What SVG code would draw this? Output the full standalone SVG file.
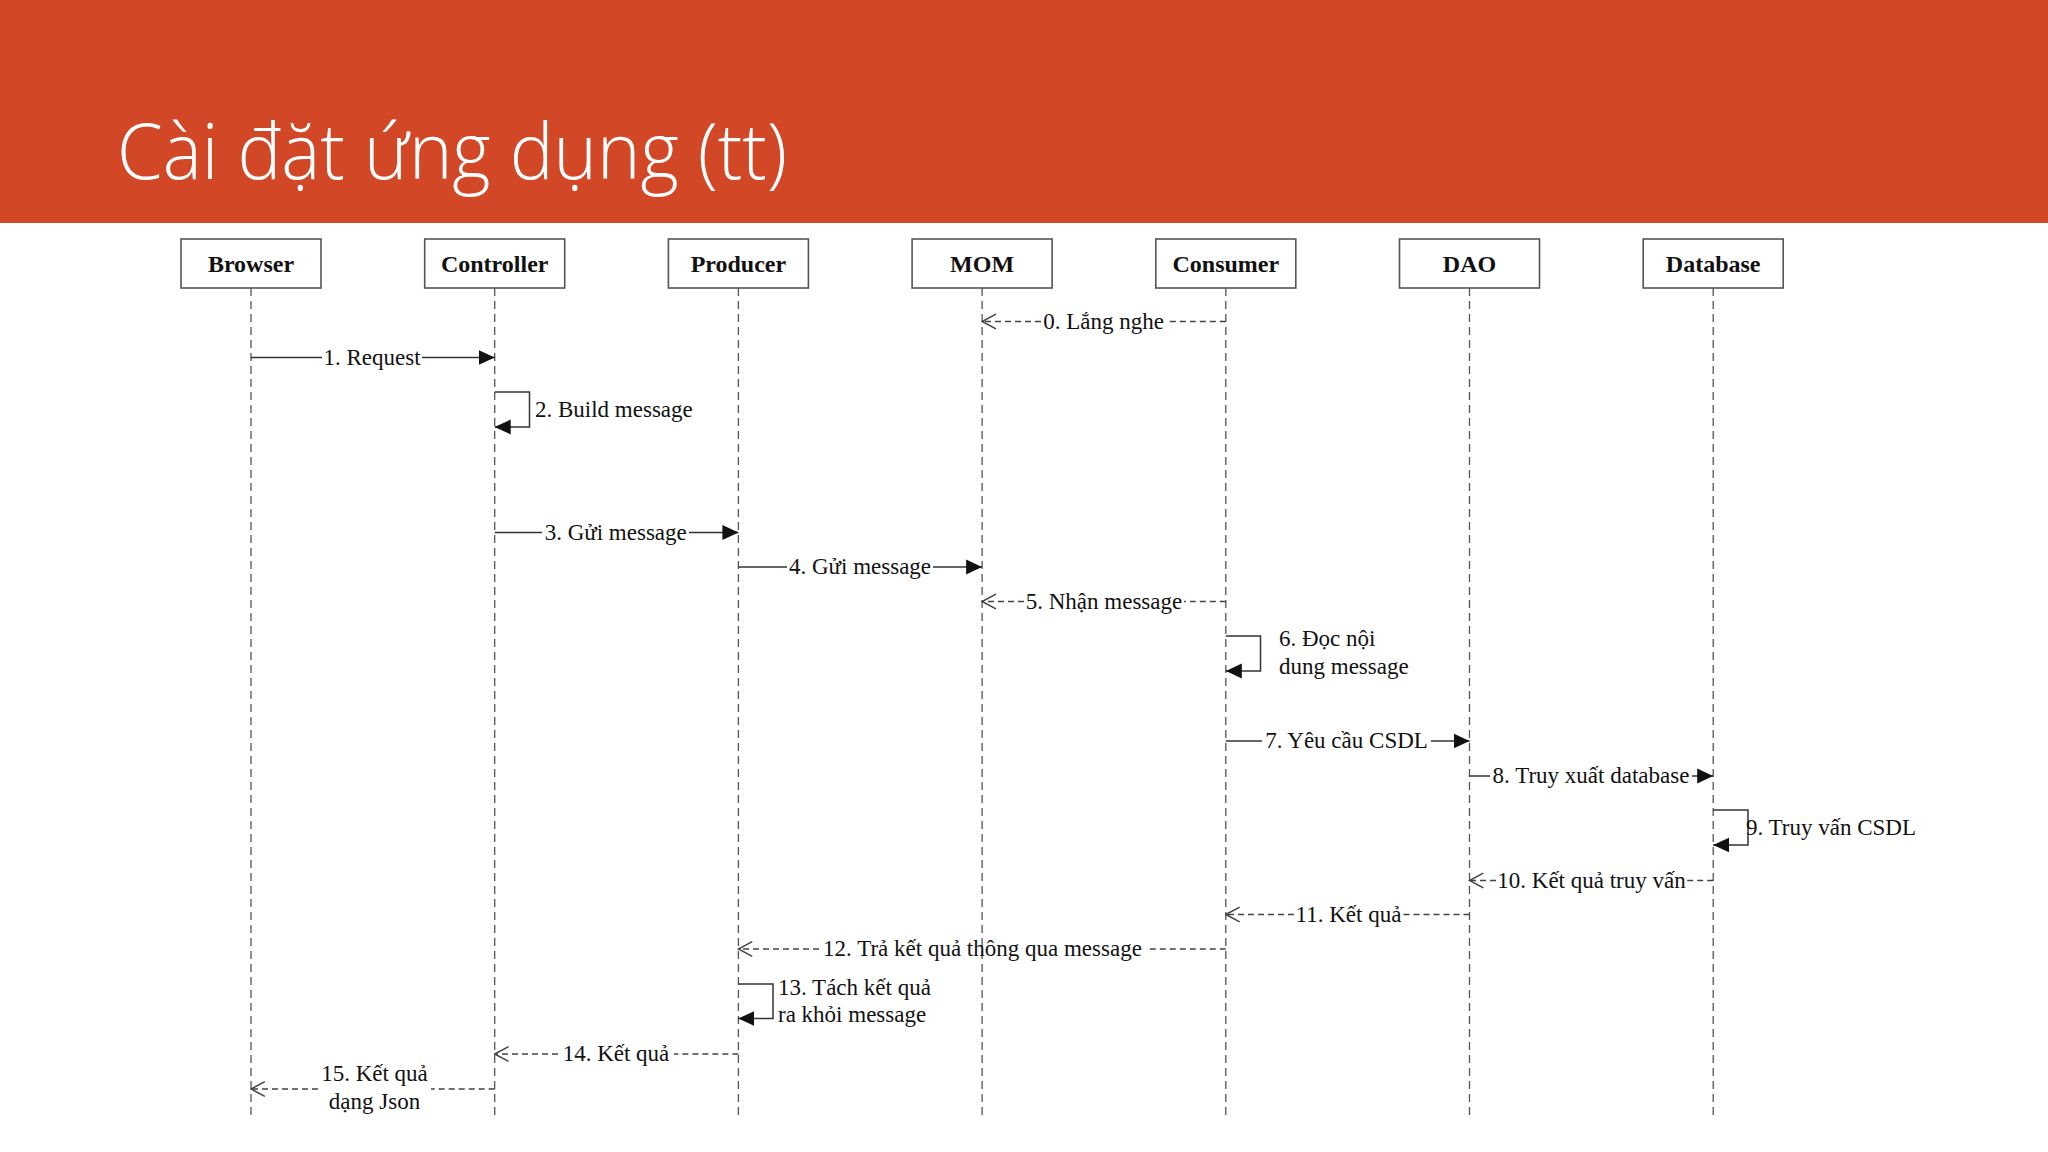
<svg xmlns="http://www.w3.org/2000/svg" width="2048" height="1152" viewBox="0 0 2048 1152">
<style>
.box{fill:#fff;stroke:#555;stroke-width:1.6}
.bl{font-family:"Liberation Serif","Times New Roman",serif;font-weight:bold;font-size:24px;fill:#111;text-anchor:middle}
.life{stroke:#555;stroke-width:1.3;stroke-dasharray:8 5;fill:none}
.sol{stroke:#333;stroke-width:1.5;fill:none}
.dsh{stroke:#444;stroke-width:1.4;stroke-dasharray:6 4;fill:none}
.lb{font-family:"Liberation Serif","Times New Roman",serif;font-size:23px;fill:#111}
.c{text-anchor:middle}
</style>
<defs>
<marker id="fill" markerUnits="userSpaceOnUse" markerWidth="16" markerHeight="16" viewBox="0 0 14 13" refX="14" refY="6.5" orient="auto">
<path d="M0,0 L14,6.5 L0,13 z" fill="#111"/>
</marker>
<marker id="open" markerUnits="userSpaceOnUse" markerWidth="16" markerHeight="18" viewBox="0 0 15 16" refX="14" refY="8" orient="auto">
<path d="M1,1 L14,8 L1,15" fill="none" stroke="#444" stroke-width="1.4"/>
</marker>
</defs>
<rect width="2048" height="1152" fill="#fff"/>
<rect width="2048" height="223" fill="#D24726"/>
<text x="117" y="179" font-family="'Open Sans','Segoe UI',sans-serif" font-weight="300" font-size="77" fill="#fff" textLength="670" lengthAdjust="spacingAndGlyphs">Cài đặt ứng dụng (tt)</text>

<g id="lifelines">
<line class="life" x1="251" y1="288" x2="251" y2="1118"/>
<line class="life" x1="494.7" y1="288" x2="494.7" y2="1118"/>
<line class="life" x1="738.4" y1="288" x2="738.4" y2="1118"/>
<line class="life" x1="982.1" y1="288" x2="982.1" y2="1118"/>
<line class="life" x1="1225.8" y1="288" x2="1225.8" y2="1118"/>
<line class="life" x1="1469.5" y1="288" x2="1469.5" y2="1118"/>
<line class="life" x1="1713.2" y1="288" x2="1713.2" y2="1118"/>
</g>

<g id="browser"><rect class="box" x="181" y="239" width="140" height="49"/><text class="bl" x="251" y="272">Browser</text></g>
<g id="controller"><rect class="box" x="424.7" y="239" width="140" height="49"/><text class="bl" x="494.7" y="272">Controller</text></g>
<g id="producer"><rect class="box" x="668.4" y="239" width="140" height="49"/><text class="bl" x="738.4" y="272">Producer</text></g>
<g id="mom"><rect class="box" x="912.1" y="239" width="140" height="49"/><text class="bl" x="982.1" y="272">MOM</text></g>
<g id="consumer"><rect class="box" x="1155.8" y="239" width="140" height="49"/><text class="bl" x="1225.8" y="272">Consumer</text></g>
<g id="dao"><rect class="box" x="1399.5" y="239" width="140" height="49"/><text class="bl" x="1469.5" y="272">DAO</text></g>
<g id="database"><rect class="box" x="1643.2" y="239" width="140" height="49"/><text class="bl" x="1713.2" y="272">Database</text></g>

<g id="connectors">
<!-- 0 -->
<line class="dsh" x1="1225.8" y1="321.5" x2="1166" y2="321.5"/>
<line class="dsh" x1="1041" y1="321.5" x2="982.1" y2="321.5" marker-end="url(#open)"/>
<text class="lb c" x="1103.5" y="328.5">0. Lắng nghe</text>
<!-- 1 -->
<line class="sol" x1="251" y1="357.5" x2="322" y2="357.5"/>
<line class="sol" x1="422" y1="357.5" x2="494.7" y2="357.5" marker-end="url(#fill)"/>
<text class="lb c" x="372" y="364.5">1. Request</text>
<!-- 2 -->
<polyline class="sol" points="494.7,392 529.5,392 529.5,427 494.7,427" marker-end="url(#fill)"/>
<text class="lb" x="535" y="417">2. Build message</text>
<!-- 3 -->
<line class="sol" x1="494.7" y1="532.5" x2="542" y2="532.5"/>
<line class="sol" x1="689" y1="532.5" x2="738.4" y2="532.5" marker-end="url(#fill)"/>
<text class="lb c" x="615.7" y="539.5">3. Gửi message</text>
<!-- 4 -->
<line class="sol" x1="738.4" y1="567" x2="787" y2="567"/>
<line class="sol" x1="933" y1="567" x2="982.1" y2="567" marker-end="url(#fill)"/>
<text class="lb c" x="860" y="574">4. Gửi message</text>
<!-- 5 -->
<line class="dsh" x1="1225.8" y1="601.5" x2="1184" y2="601.5"/>
<line class="dsh" x1="1024" y1="601.5" x2="982.1" y2="601.5" marker-end="url(#open)"/>
<text class="lb c" x="1104" y="608.5">5. Nhận message</text>
<!-- 6 -->
<polyline class="sol" points="1225.8,636 1260.5,636 1260.5,671 1225.8,671" marker-end="url(#fill)"/>
<text class="lb" x="1279" y="646">6. Đọc nội</text>
<text class="lb" x="1279" y="674">dung message</text>
<!-- 7 -->
<line class="sol" x1="1225.8" y1="741" x2="1262" y2="741"/>
<line class="sol" x1="1431" y1="741" x2="1469.5" y2="741" marker-end="url(#fill)"/>
<text class="lb c" x="1346.5" y="748">7. Yêu cầu CSDL</text>
<!-- 8 -->
<line class="sol" x1="1469.5" y1="776" x2="1490" y2="776"/>
<line class="sol" x1="1692" y1="776" x2="1713.2" y2="776" marker-end="url(#fill)"/>
<text class="lb c" x="1591" y="783">8. Truy xuất database</text>
<!-- 9 -->
<polyline class="sol" points="1713.2,810 1748,810 1748,845 1713.2,845" marker-end="url(#fill)"/>
<text class="lb" x="1746" y="835">9. Truy vấn CSDL</text>
<!-- 10 -->
<line class="dsh" x1="1713.2" y1="880.5" x2="1687" y2="880.5"/>
<line class="dsh" x1="1496" y1="880.5" x2="1469.5" y2="880.5" marker-end="url(#open)"/>
<text class="lb c" x="1591.5" y="887.5">10. Kết quả truy vấn</text>
<!-- 11 -->
<line class="dsh" x1="1469.5" y1="914.5" x2="1403" y2="914.5"/>
<line class="dsh" x1="1294" y1="914.5" x2="1225.8" y2="914.5" marker-end="url(#open)"/>
<text class="lb c" x="1348.5" y="921.5">11. Kết quả</text>
<!-- 12 -->
<line class="dsh" x1="1225.8" y1="949" x2="1146" y2="949"/>
<line class="dsh" x1="819" y1="949" x2="738.4" y2="949" marker-end="url(#open)"/>
<text class="lb c" x="982.5" y="956">12. Trả kết quả thông qua message</text>
<!-- 13 -->
<polyline class="sol" points="738.4,984 773,984 773,1018.5 738.4,1018.5" marker-end="url(#fill)"/>
<text class="lb" x="778" y="995">13. Tách kết quả</text>
<text class="lb" x="778" y="1022">ra khỏi message</text>
<!-- 14 -->
<line class="dsh" x1="738.4" y1="1054" x2="674" y2="1054"/>
<line class="dsh" x1="558" y1="1054" x2="494.7" y2="1054" marker-end="url(#open)"/>
<text class="lb c" x="616" y="1061">14. Kết quả</text>
<!-- 15 -->
<line class="dsh" x1="494.7" y1="1089" x2="431" y2="1089"/>
<line class="dsh" x1="318" y1="1089" x2="251" y2="1089" marker-end="url(#open)"/>
<text class="lb c" x="374.5" y="1081">15. Kết quả</text>
<text class="lb c" x="374.5" y="1109">dạng Json</text>
</g>
</svg>
